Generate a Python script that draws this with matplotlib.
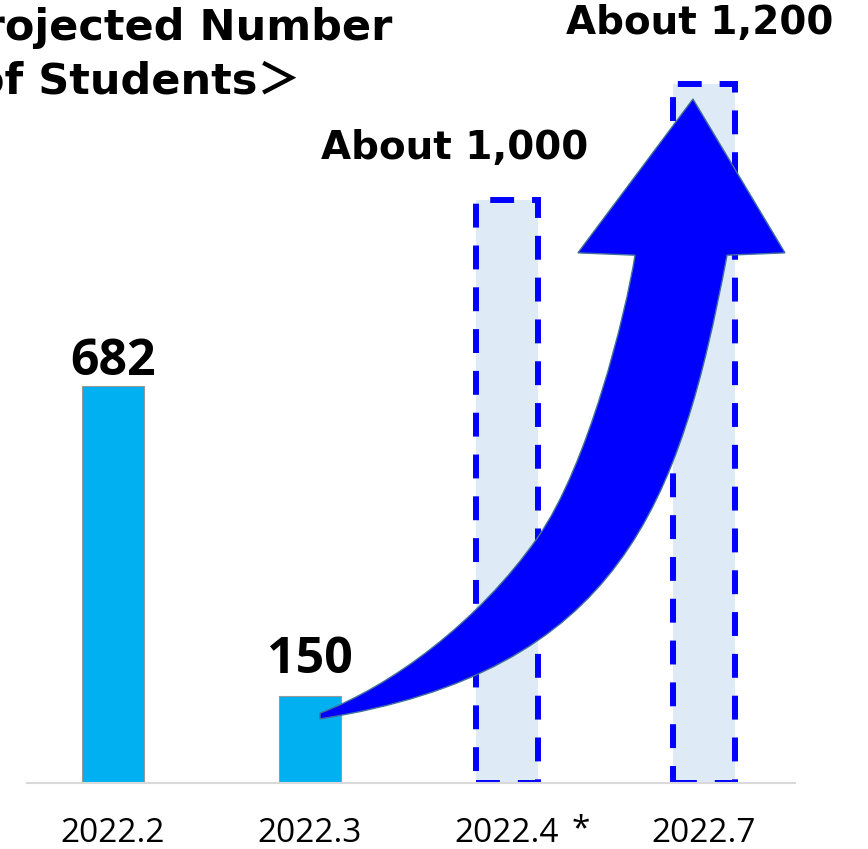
import numpy as np
import matplotlib
matplotlib.use("Agg")
import matplotlib.pyplot as plt
from matplotlib.path import Path
from matplotlib.patches import PathPatch

months = ["2022.2", "2022.3", "2022.4", "2022.7"]
students = [682, 150, 1000, 1200]
projected = [False, False, True, True]
value_labels = ["682", "150", "About 1,000", "About 1,200"]
title_lines = ["＜Projected Number", "of Students＞"]
footnote_mark = "*"

SOLID = "#00B0F0"
PROJ_FILL = "#DEEBF7"
PROJ_EDGE = "#0000FF"
ARROW_FILL = "#0000FF"
ARROW_EDGE = "#41719C"


def curved_arrow_path():
    # curved up-arrow from the 2022.3 bar to the top of the 2022.7 bar,
    # given in (category index, number of students)
    upper = [(1.051, 120), (1.406, 165), (1.853, 275), (2.157, 422),
             (2.411, 545), (2.602, 803), (2.650, 906)]
    head = [(2.360, 910), (2.944, 1174), (3.411, 910)]
    lower = [(3.117, 906), (2.876, 477), (2.574, 192), (1.051, 110)]
    verts = upper + head + lower + [upper[0]]
    codes = (
        [Path.MOVETO] + [Path.CURVE4] * 6
        + [Path.LINETO] * 3
        + [Path.LINETO] + [Path.CURVE4] * 3
        + [Path.CLOSEPOLY]
    )
    return Path(verts, codes)


def main():
    fig = plt.figure(figsize=(8.68, 8.49), dpi=100)
    ax = fig.add_axes([27 / 868, 66 / 849, 768 / 868, 783 / 849])

    x = np.arange(len(months))
    for xi, value, proj in zip(x, students, projected):
        if proj:
            ax.bar(xi, value, width=0.31, color=PROJ_FILL, edgecolor=PROJ_EDGE,
                   linewidth=4.3, linestyle=(0, (4, 3)), zorder=2)
        else:
            ax.bar(xi, value, width=0.315, color=SOLID, edgecolor="#999999",
                   linewidth=0.8, zorder=2)

    ax.add_patch(PathPatch(curved_arrow_path(), facecolor=ARROW_FILL,
                           edgecolor=ARROW_EDGE, linewidth=1.0, zorder=4,
                           clip_on=False))

    # value labels above the bars
    offsets = [(0, 8), (0, 16), (-38, 30), (-3, 36)]
    for xi, value, label, proj, off in zip(x, students, value_labels,
                                           projected, offsets):
        if proj:
            font = dict(family="DejaVu Sans", fontsize=28, fontweight="bold")
        else:
            font = dict(family="Open Sans", fontsize=36, fontweight="bold")
        ax.annotate(label, xy=(xi, value), xytext=off, textcoords="offset points",
                    ha="center", va="baseline", color="black", zorder=5,
                    annotation_clip=False, **font)

    ax.set_xlim(-0.4365, 3.462)
    ax.set_ylim(0, 1344)
    ax.set_xticks(x, months)
    ax.set_yticks([])
    ax.tick_params(axis="x", length=0, pad=24.5, labelsize=24)
    for lbl in ax.get_xticklabels():
        lbl.set_family("Open Sans")
    for side in ["top", "left", "right"]:
        ax.spines[side].set_visible(False)
    ax.spines["bottom"].set_color("#D9D9D9")
    ax.spines["bottom"].set_linewidth(1.5)
    ax.patch.set_alpha(0)

    ax.annotate(footnote_mark, xy=(2, 0), xytext=(53, -34),
                textcoords="offset points", ha="center", va="center",
                family="Open Sans", fontsize=24, annotation_clip=False)

    # the heading runs off the left edge of the slide
    title_font = dict(family=["DejaVu Sans", "Noto Sans CJK JP"],
                      fontsize=31, fontweight="bold", ha="right", va="baseline")
    fig.text(392 / 868, 1 - 40 / 849, title_lines[0], **title_font)
    fig.text(300 / 868, 1 - 94 / 849, title_lines[1], **title_font)

    fig.savefig("out.png", dpi=100)


if __name__ == "__main__":
    main()
